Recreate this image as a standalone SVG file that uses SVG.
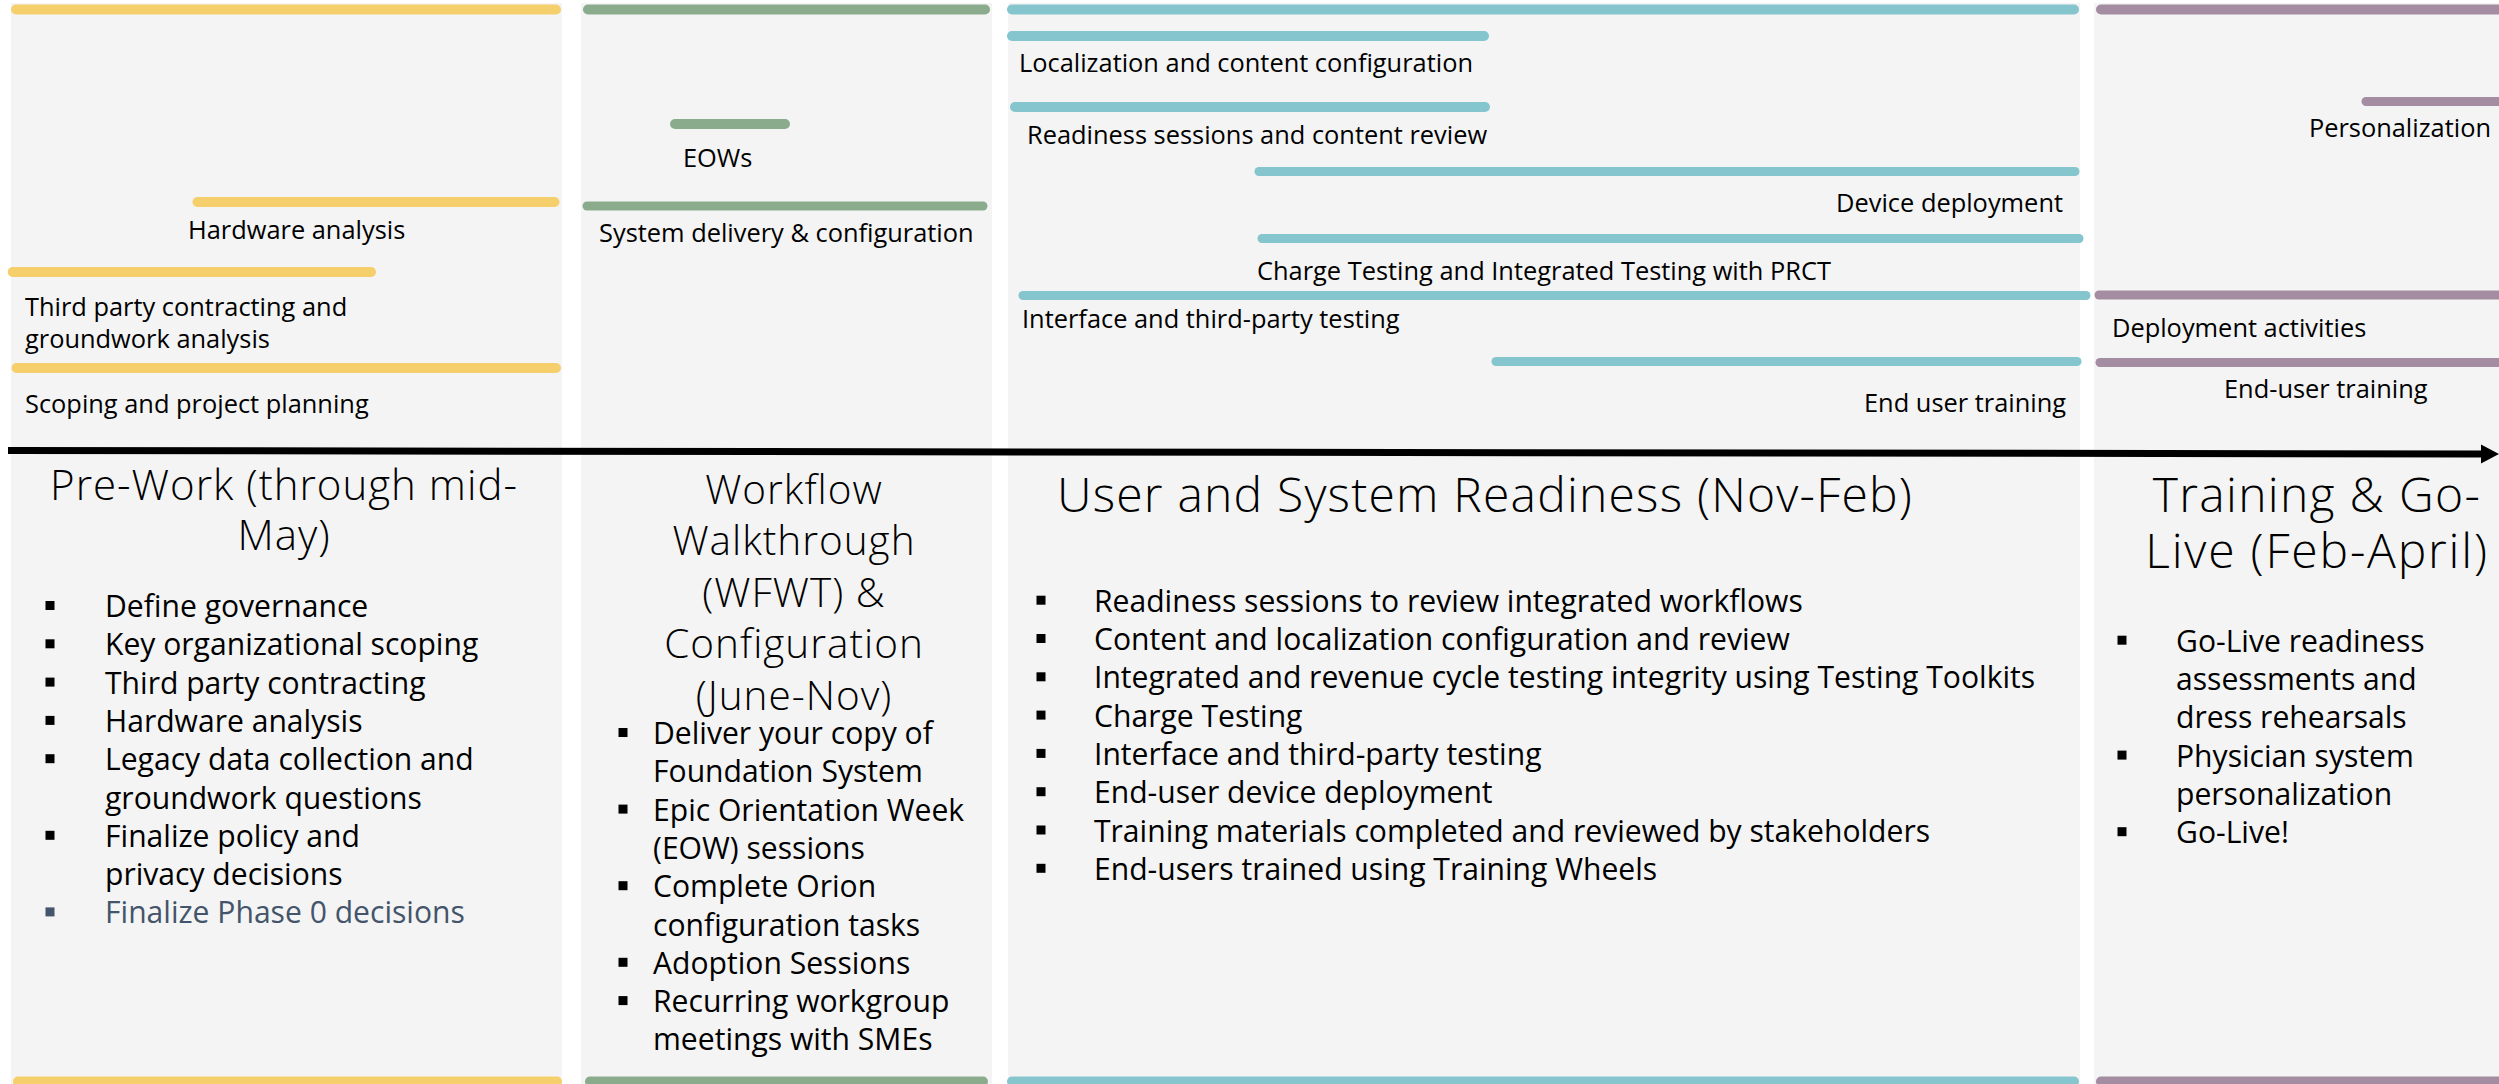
<svg xmlns="http://www.w3.org/2000/svg" width="2499" height="1084" viewBox="0 0 2499 1084">
<style>
  .panel { fill: #F4F4F4; }
  .bar { stroke-linecap: round; stroke-width: 10; fill: none; }
  .thin { stroke-width: 9; }
  .y { stroke: #F5CF6B; }
  .g { stroke: #8BAB8D; }
  .t { stroke: #84C5CE; }
  .p { stroke: #A48CA2; }
  text { font-family: "Open Sans", "Noto Sans", sans-serif; fill: #000; }
  .lbl { font-size: 25.4px; }
  .ttl { font-weight: 300; }
  .bul { font-size: 30.1px; }
  .sq { fill: #000; }
  .muted { fill: #44546A; }
</style>
<rect width="2499" height="1084" fill="#FFFFFF"/>

<g id="panel-prework">
  <rect class="panel" x="11" y="3" width="551" height="1081"/>
  <line class="bar y" x1="16" y1="9.5" x2="556" y2="9.5"/>
  <line class="bar y" x1="197.5" y1="202" x2="554.5" y2="202"/>
  <line class="bar y" x1="12.7" y1="272" x2="371" y2="272"/>
  <line class="bar y" x1="16.5" y1="368" x2="556" y2="368"/>
  <line class="bar y" x1="18" y1="1081.5" x2="557" y2="1081.5"/>
  <text class="lbl" x="188" y="239">Hardware analysis</text>
  <text class="lbl" x="25" y="316">Third party contracting and</text>
  <text class="lbl" x="25" y="348">groundwork analysis</text>
  <text class="lbl" x="25" y="413">Scoping and project planning</text>
  <text class="ttl" font-size="42" letter-spacing="1" text-anchor="middle" x="284" y="500">Pre-Work (through mid-</text>
  <text class="ttl" font-size="42" letter-spacing="1" text-anchor="middle" x="284" y="550">May)</text>
  <rect class="sq" x="45.5" y="601" width="9" height="9"/>
  <text class="bul" x="105" y="617">Define governance</text>
  <rect class="sq" x="45.5" y="639.3" width="9" height="9"/>
  <text class="bul" x="105" y="655.3">Key organizational scoping</text>
  <rect class="sq" x="45.5" y="677.6" width="9" height="9"/>
  <text class="bul" x="105" y="693.6">Third party contracting</text>
  <rect class="sq" x="45.5" y="715.9" width="9" height="9"/>
  <text class="bul" x="105" y="731.9">Hardware analysis</text>
  <rect class="sq" x="45.5" y="754.2" width="9" height="9"/>
  <text class="bul" x="105" y="770.2">Legacy data collection and</text>
  <text class="bul" x="105" y="808.5">groundwork questions</text>
  <rect class="sq" x="45.5" y="830.8" width="9" height="9"/>
  <text class="bul" x="105" y="846.8">Finalize policy and</text>
  <text class="bul" x="105" y="885.1">privacy decisions</text>
  <rect class="sq muted" x="45.5" y="907.4" width="9" height="9"/>
  <text class="bul muted" x="105" y="923.4">Finalize Phase 0 decisions</text>
</g>

<g id="panel-wfwt">
  <rect class="panel" x="581" y="3" width="411" height="1081"/>
  <line class="bar g" x1="588" y1="9.5" x2="985" y2="9.5"/>
  <line class="bar g" x1="675" y1="124" x2="785" y2="124"/>
  <line class="bar g thin" x1="587" y1="206" x2="983" y2="206"/>
  <line class="bar g" x1="590" y1="1081.5" x2="983" y2="1081.5"/>
  <text class="lbl" x="683" y="167">EOWs</text>
  <text class="lbl" x="599" y="242">System delivery &amp; configuration</text>
  <text class="ttl" font-size="40.5" letter-spacing="1" text-anchor="middle" x="794" y="503.5">Workflow</text>
  <text class="ttl" font-size="40.5" letter-spacing="1" text-anchor="middle" x="794" y="555">Walkthrough</text>
  <text class="ttl" font-size="40.5" letter-spacing="1" text-anchor="middle" x="794" y="606.5">(WFWT) &amp;</text>
  <text class="ttl" font-size="40.5" letter-spacing="1" text-anchor="middle" x="794" y="658">Configuration</text>
  <text class="ttl" font-size="40.5" letter-spacing="1" text-anchor="middle" x="794" y="709.5">(June-Nov)</text>
  <rect class="sq" x="618.5" y="728" width="9" height="9"/>
  <text class="bul" x="653" y="744">Deliver your copy of</text>
  <text class="bul" x="653" y="782.3">Foundation System</text>
  <rect class="sq" x="618.5" y="804.6" width="9" height="9"/>
  <text class="bul" x="653" y="820.6">Epic Orientation Week</text>
  <text class="bul" x="653" y="858.9">(EOW) sessions</text>
  <rect class="sq" x="618.5" y="881.2" width="9" height="9"/>
  <text class="bul" x="653" y="897.2">Complete Orion</text>
  <text class="bul" x="653" y="935.5">configuration tasks</text>
  <rect class="sq" x="618.5" y="957.8" width="9" height="9"/>
  <text class="bul" x="653" y="973.8">Adoption Sessions</text>
  <rect class="sq" x="618.5" y="996.1" width="9" height="9"/>
  <text class="bul" x="653" y="1012.1">Recurring workgroup</text>
  <text class="bul" x="653" y="1050.4">meetings with SMEs</text>
</g>

<g id="panel-readiness">
  <rect class="panel" x="1008" y="3" width="1072" height="1081"/>
  <line class="bar t" x1="1012" y1="9.5" x2="2074" y2="9.5"/>
  <line class="bar t" x1="1012" y1="36" x2="1484" y2="36"/>
  <line class="bar t" x1="1015" y1="107" x2="1485" y2="107"/>
  <line class="bar t thin" x1="1259" y1="171.5" x2="2075" y2="171.5"/>
  <line class="bar t thin" x1="1262" y1="238.5" x2="2079" y2="238.5"/>
  <line class="bar t thin" x1="1023" y1="295.5" x2="2086" y2="295.5"/>
  <line class="bar t thin" x1="1496" y1="361.5" x2="2077" y2="361.5"/>
  <line class="bar t" x1="1012" y1="1081.5" x2="2074" y2="1081.5"/>
  <text class="lbl" x="1019" y="72">Localization and content configuration</text>
  <text class="lbl" x="1027" y="144">Readiness sessions and content review</text>
  <text class="lbl" text-anchor="end" x="2063" y="212">Device deployment</text>
  <text class="lbl" x="1257" y="280">Charge Testing and Integrated Testing with PRCT</text>
  <text class="lbl" x="1022" y="328">Interface and third-party testing</text>
  <text class="lbl" text-anchor="end" x="2066" y="412">End user training</text>
  <text class="ttl" font-size="48" letter-spacing="1.2" x="1057" y="512">User and System Readiness (Nov-Feb)</text>
  <rect class="sq" x="1036.5" y="595.7" width="9" height="9"/>
  <text class="bul" x="1094" y="611.7">Readiness sessions to review integrated workflows</text>
  <rect class="sq" x="1036.5" y="634" width="9" height="9"/>
  <text class="bul" x="1094" y="650">Content and localization configuration and review</text>
  <rect class="sq" x="1036.5" y="672.3" width="9" height="9"/>
  <text class="bul" x="1094" y="688.3">Integrated and revenue cycle testing integrity using Testing Toolkits</text>
  <rect class="sq" x="1036.5" y="710.6" width="9" height="9"/>
  <text class="bul" x="1094" y="726.6">Charge Testing</text>
  <rect class="sq" x="1036.5" y="748.9" width="9" height="9"/>
  <text class="bul" x="1094" y="764.9">Interface and third-party testing</text>
  <rect class="sq" x="1036.5" y="787.2" width="9" height="9"/>
  <text class="bul" x="1094" y="803.2">End-user device deployment</text>
  <rect class="sq" x="1036.5" y="825.5" width="9" height="9"/>
  <text class="bul" x="1094" y="841.5">Training materials completed and reviewed by stakeholders</text>
  <rect class="sq" x="1036.5" y="863.8" width="9" height="9"/>
  <text class="bul" x="1094" y="879.8">End-users trained using Training Wheels</text>
</g>

<g id="panel-golive">
  <rect class="panel" x="2094" y="3" width="405" height="1081"/>
  <line class="bar p" x1="2101" y1="9.5" x2="2510" y2="9.5"/>
  <line class="bar p thin" x1="2366" y1="101.5" x2="2510" y2="101.5"/>
  <line class="bar p thin" x1="2099" y1="295" x2="2510" y2="295"/>
  <line class="bar p thin" x1="2100" y1="362.5" x2="2510" y2="362.5"/>
  <line class="bar p" x1="2101" y1="1081.5" x2="2510" y2="1081.5"/>
  <text class="lbl" text-anchor="end" x="2491" y="137">Personalization</text>
  <text class="lbl" x="2112" y="337">Deployment activities</text>
  <text class="lbl" x="2224" y="398">End-user training</text>
  <text class="ttl" font-size="48" letter-spacing="1.3" text-anchor="middle" x="2317" y="512">Training &amp; Go-</text>
  <text class="ttl" font-size="48" letter-spacing="1.8" text-anchor="middle" x="2317" y="568">Live (Feb-April)</text>
  <rect class="sq" x="2117.5" y="635.7" width="9" height="9"/>
  <text class="bul" x="2176" y="651.7">Go-Live readiness</text>
  <text class="bul" x="2176" y="690">assessments and</text>
  <text class="bul" x="2176" y="728.3">dress rehearsals</text>
  <rect class="sq" x="2117.5" y="750.6" width="9" height="9"/>
  <text class="bul" x="2176" y="766.6">Physician system</text>
  <text class="bul" x="2176" y="804.9">personalization</text>
  <rect class="sq" x="2117.5" y="827.2" width="9" height="9"/>
  <text class="bul" x="2176" y="843.2">Go-Live!</text>
</g>

<g id="connectors">
  <line x1="8" y1="450.5" x2="2483" y2="454" stroke="#000" stroke-width="7"/>
  <polygon points="2481,444.5 2499,454 2481,463.5" fill="#000"/>
</g>
</svg>
